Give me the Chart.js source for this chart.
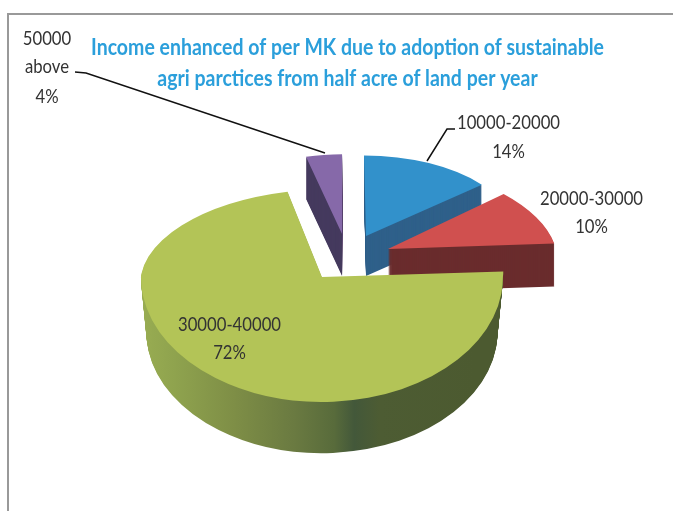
<!DOCTYPE html>
<html>
<head>
<meta charset="utf-8">
<style>html,body{margin:0;padding:0;background:#fff}canvas{display:block;filter:blur(0.45px)}</style>
<script src="https://cdn.jsdelivr.net/npm/chart.js@4"></script>
</head>
<body>
<canvas id="c" width="673" height="511"></canvas>
<script>
const titleLines = ['Income enhanced of per MK due to adoption of sustainable', 'agri parctices from half acre of land per year'];
const categories = ['10000-20000', '20000-30000', '30000-40000', '50000 above'];
const shares = [14, 10, 72, 4];
const topColors = ['#3291cb', '#d0504f', '#b3c457', '#8669a9'];
const sideColors = ['#2f608a', '#6a2c2d', null, '#453a5e'];
const sliceRadius = [152, 168, 181, 145];
const tiltUp = [0.53, 0.514, 0.486, 0.55];
const tiltDown = [0.53, 0.514, 0.69, 0.55];
const shearUp = [0.025, 0.25, -0.125, 0];
const sliceDepth = [40, 43, 55, 42];
const taper = [0, 0, 0.03, 0];
const drawOrder = [3, 0, 1, 2];
const explode = 43.5;
const apexTilt = 0.55;
const greenSide = [[141, '#a0b455'], [200, '#8fa34e'], [260, '#7e8e46'], [320, '#6a7a41'], [360, '#586b3b'], [380, '#43583a'], [405, '#4d5c33'], [502, '#4c5a30']];
const FONT = 'Lato,"Liberation Sans",sans-serif';
const labelBlocks = [
  {cat: 0, cx: 508.5, y1: 123, y2: 152},
  {cat: 1, cx: 591.5, y1: 199, y2: 227},
  {cat: 2, cx: 229.5, y1: 325, y2: 353}
];

function drawSlice(chart, el, i, color, z) {
  const ctx = chart.ctx;
  const h = (el.startAngle + el.endAngle) / 2;
  const screenApexY = Math.round(el.y + Math.sin(h) * explode * apexTilt) + z;
  const saved = el.options;
  el.options = Object.assign({}, saved, {backgroundColor: color, borderWidth: 0, offset: 0});
  el.outerRadius = sliceRadius[i] * (1 - taper[i] * z / sliceDepth[i]);
  const part = (k, shear, clipTop, clipH) => {
    ctx.save();
    ctx.beginPath();
    ctx.rect(0, clipTop, chart.width, clipH);
    ctx.clip();
    ctx.translate(Math.cos(h) * explode, screenApexY);
    ctx.transform(1, 0, shear, 1, 0, 0);
    ctx.scale(1, k);
    ctx.translate(0, -el.y);
    el.draw(ctx);
    ctx.restore();
  };
  if (tiltUp[i] === tiltDown[i]) {
    part(tiltUp[i], shearUp[i], 0, chart.height);
  } else {
    part(tiltUp[i], shearUp[i], 0, screenApexY);
    part(tiltDown[i], 0, screenApexY, chart.height - screenApexY);
  }
  el.options = saved;
}

function narrowText(ctx, text, cx, y, sx) {
  ctx.save();
  ctx.translate(cx, y);
  ctx.scale(sx, 1);
  ctx.fillText(text, 0, 0);
  ctx.restore();
}

const pie3d = {
  id: 'pie3d',
  beforeDatasetsDraw(chart) {
    const ctx = chart.ctx;
    const arcs = chart.getDatasetMeta(0).data;
    const grad = ctx.createLinearGradient(141, 0, 502, 0);
    greenSide.forEach(s => grad.addColorStop((s[0] - 141) / 361, s[1]));
    drawOrder.forEach(i => {
      const el = arcs[i];
      for (let z = sliceDepth[i]; z >= 1; z--) {
        drawSlice(chart, el, i, sideColors[i] || grad, z);
      }
      drawSlice(chart, el, i, topColors[i], 0);
    });
    return false;
  },
  beforeDraw(chart) {
    const ctx = chart.ctx;
    ctx.save();
    ctx.fillStyle = '#999999';
    ctx.fillRect(7, 13, chart.width - 7, 2);
    ctx.fillRect(7, 13, 2, chart.height - 13);
    ctx.restore();
    const tb = chart.titleBlock;
    if (tb && !tb.__narrow) {
      tb.__narrow = true;
      const orig = tb.draw.bind(tb);
      tb.draw = function () {
        const c = chart.ctx;
        c.save();
        c.font = 'bold 22px ' + FONT;
        const sx = 513 / c.measureText(titleLines[0]).width;
        c.restore();
        c.save();
        c.translate(347.5, 0);
        c.scale(sx, 1);
        c.translate(-347.5, 0);
        orig();
        c.restore();
      };
    }
  },
  afterDraw(chart) {
    const ctx = chart.ctx;
    ctx.save();
    ctx.strokeStyle = '#111';
    ctx.lineWidth = 1.5;
    ctx.beginPath();
    ctx.moveTo(75, 72); ctx.lineTo(86, 73); ctx.lineTo(325, 153);
    ctx.moveTo(455, 129); ctx.lineTo(447, 129); ctx.lineTo(427, 161);
    ctx.stroke();
    ctx.font = '20px ' + FONT;
    ctx.fillStyle = '#333';
    ctx.textAlign = 'center';
    ctx.textBaseline = 'middle';
    const sx = 103 / ctx.measureText(categories[0]).width;
    labelBlocks.forEach(b => {
      narrowText(ctx, categories[b.cat], b.cx, b.y1, sx);
      narrowText(ctx, shares[b.cat] + '%', b.cx, b.y2, sx);
    });
    const parts = categories[3].split(' ');
    narrowText(ctx, parts[0], 47, 39, sx);
    narrowText(ctx, parts[1], 47, 67, sx);
    narrowText(ctx, shares[3] + '%', 47, 97, sx);
    ctx.restore();
  }
};

new Chart(document.getElementById('c'), {
  type: 'pie',
  data: {
    labels: categories,
    datasets: [{data: shares, backgroundColor: topColors, borderWidth: 0}]
  },
  options: {
    responsive: false,
    animation: false,
    radius: 160,
    layout: {padding: {left: 22, bottom: 90.6}},
    plugins: {
      legend: {display: false},
      tooltip: {enabled: false},
      title: {
        display: true,
        fullSize: false,
        text: titleLines,
        color: '#2b9fdb',
        font: {family: FONT, size: 22, weight: 'bold', lineHeight: 1.4},
        padding: {top: 33, bottom: 0}
      }
    }
  },
  plugins: [pie3d]
});
</script>
</body>
</html>
